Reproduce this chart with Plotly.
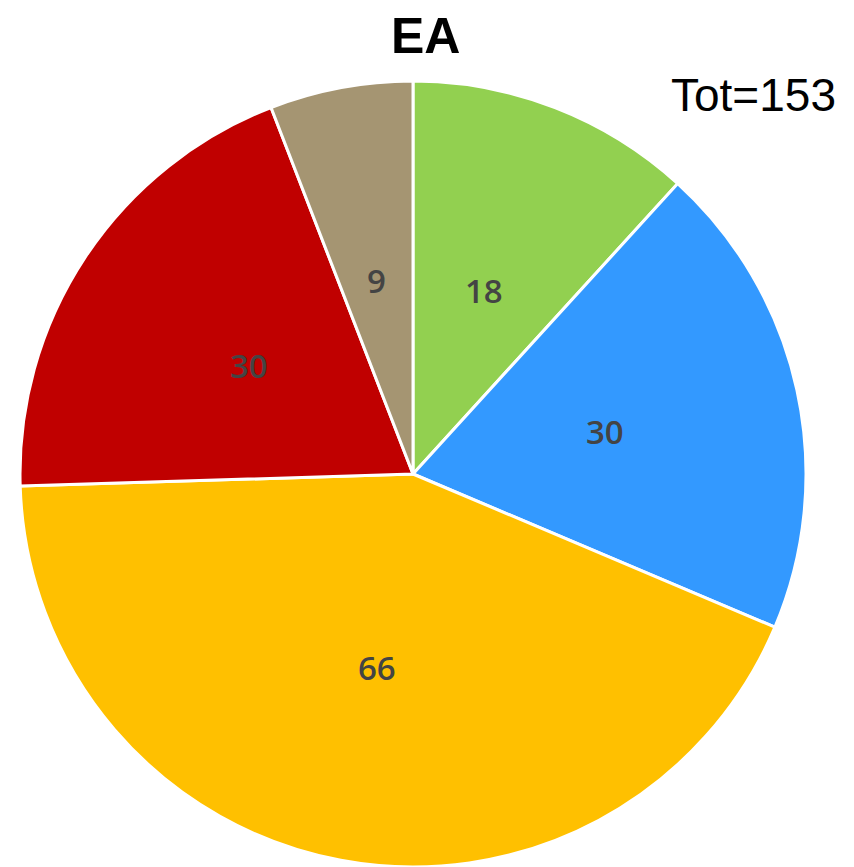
import math
import plotly.graph_objects as go

labels = ["A", "B", "C", "D", "E"]
values = [18, 30, 66, 30, 9]
colors = ["#92D050", "#3399FF", "#FFC000", "#C00000", "#A59572"]
title_text = "EA"
total_text = "Tot=153"

W, H = 854, 867
# pie geometry in figure pixels (page body adds an 8px offset)
CX, CY, R = 405, 466, 393
dom_x = [(CX - R) / W, (CX + R) / W]
dom_y = [1 - (CY + R) / H, 1 - (CY - R) / H]

fig = go.Figure(go.Pie(
    labels=labels, values=values, sort=False, direction="clockwise", rotation=0,
    marker=dict(colors=colors, line=dict(color="white", width=3)),
    textinfo="none",
    domain=dict(x=dom_x, y=dom_y),
    showlegend=False, hoverinfo="label+value",
))

annots = []
total = sum(values)
cum = 0
for v in values:
    mid = (cum + v / 2) / total * 2 * math.pi
    cum += v
    px = CX + 0.5 * R * math.sin(mid)
    py = CY - 0.5 * R * math.cos(mid)
    annots.append(dict(text=str(v), x=px / W, y=1 - py / H, xref="paper", yref="paper",
                       xanchor="center", yanchor="middle", showarrow=False,
                       font=dict(family="Open Sans", size=33, color="#444", weight=600)))

annots += [
    dict(text="<b>%s</b>" % title_text, x=417 / W, y=1, xref="paper", yref="paper",
         xanchor="center", yanchor="top", showarrow=False, yshift=2,
         font=dict(family="Liberation Sans, Arial", size=50, color="black")),
    dict(text=total_text, x=830 / W, y=1 - 87 / H, xref="paper", yref="paper",
         xanchor="right", yanchor="middle", showarrow=False,
         font=dict(family="Liberation Sans, Arial", size=46, color="black")),
]

fig.update_layout(
    width=W, height=H, margin=dict(l=0, r=0, t=0, b=0),
    paper_bgcolor="white", plot_bgcolor="white",
    annotations=annots,
)
fig.write_html("out.html")
